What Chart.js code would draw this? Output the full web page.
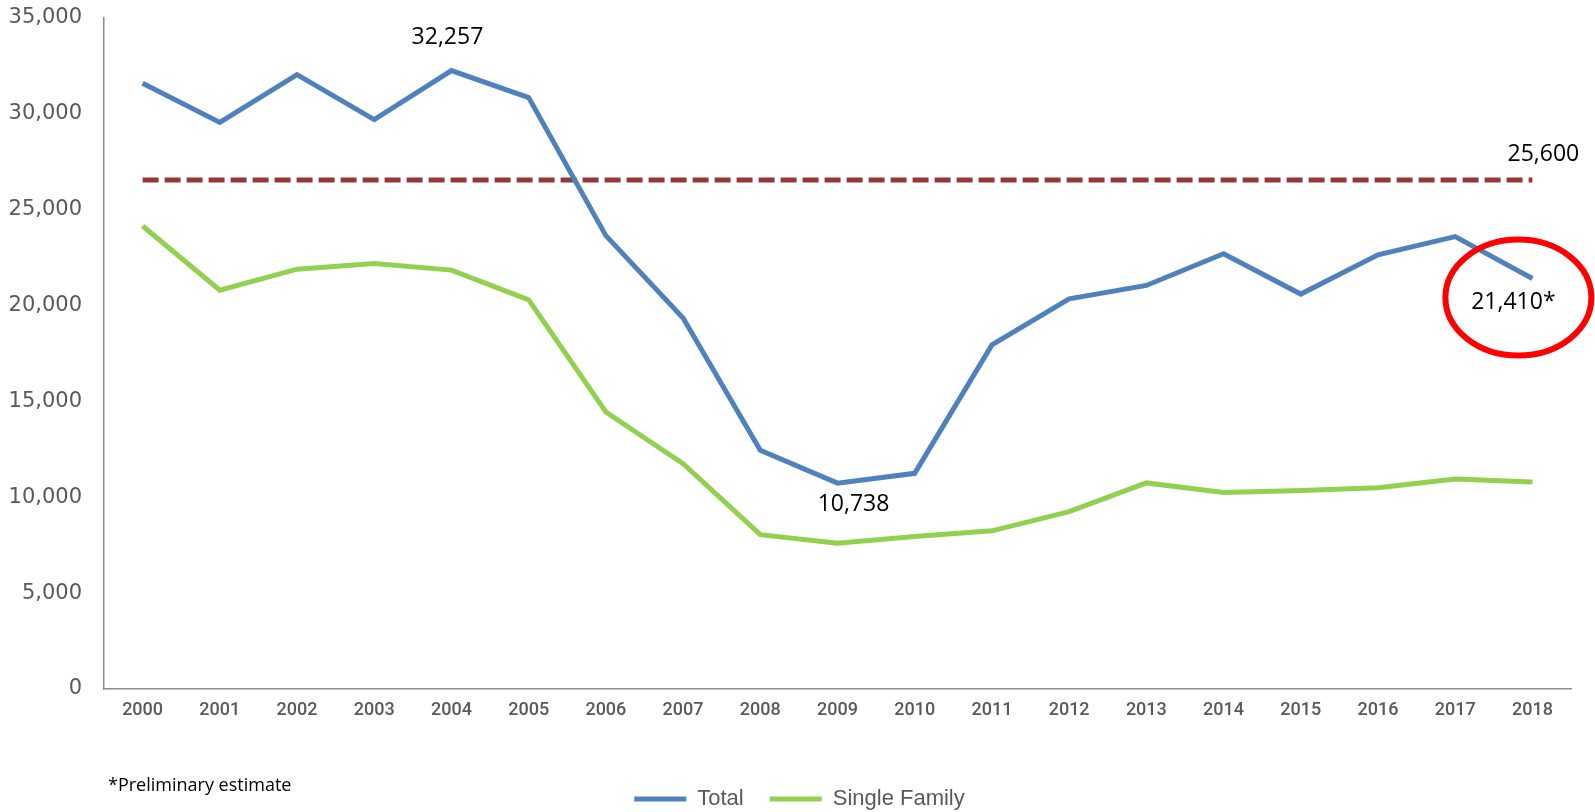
<!DOCTYPE html>
<html>
<head>
<meta charset="utf-8">
<script src="https://cdn.jsdelivr.net/npm/chart.js@4"></script>
<style>
  html, body { margin: 0; padding: 0; background: #fff; }
  #wrap { width: 1595px; height: 812px; position: relative; }
</style>
</head>
<body>
<div id="wrap"><canvas id="permitChart"></canvas></div>
<script>
// data
const years = ['2000','2001','2002','2003','2004','2005','2006','2007','2008','2009',
               '2010','2011','2012','2013','2014','2015','2016','2017','2018'];
const totalPermits = [31600, 29550, 32050, 29700, 32257, 30850, 23650, 19350, 12450, 10738,
                      11250, 17950, 20350, 21050, 22700, 20600, 22650, 23600, 21410];
const singleFamily = [24150, 20800, 21900, 22200, 21850, 20300, 14450, 11750, 8050, 7600,
                      7950, 8250, 9250, 10750, 10250, 10350, 10500, 10950, 10800];
const averageLine = [26550, 26550, 26550, 26550, 26550, 26550, 26550, 26550, 26550, 26550,
                     26550, 26550, 26550, 26550, 26550, 26550, 26550, 26550, 26550];
const yTicks = [0, 5000, 10000, 15000, 20000, 25000, 30000, 35000];

// text callouts: dataset index, point index, text, offset from the point
const callouts = [
  { ds: 0, i: 4,  text: '32,257',  dx: -4,  dy: -33 },
  { ds: 0, i: 9,  text: '10,738',  dx: 16,  dy: 21 },
  { ds: 2, i: 18, text: '25,600',  dx: 11,  dy: -26 },
  { ds: 0, i: 18, text: '21,410*', dx: -19, dy: 24 }
];

const calloutPlugin = {
  id: 'callouts',
  afterLayout(chart) {
    // nudge the legend right so it sits where the original one does
    if (chart.legend) {
      chart.legend.left += 14;
      chart.legend.right += 14;
    }
  },
  afterDatasetsDraw(chart) {
    const ctx = chart.ctx;
    ctx.save();
    ctx.font = '23px "Open Sans"';
    ctx.fillStyle = '#000';
    ctx.textAlign = 'center';
    ctx.textBaseline = 'middle';
    callouts.forEach(c => {
      const pt = chart.getDatasetMeta(c.ds).data[c.i];
      ctx.fillText(c.text, pt.x + c.dx, pt.y + c.dy);
    });

    // red ring round the last estimate
    const last = chart.getDatasetMeta(0).data[years.length - 1];
    ctx.beginPath();
    ctx.ellipse(last.x - 14, last.y + 19, 73, 58, 0, 0, Math.PI * 2);
    ctx.lineWidth = 6;
    ctx.strokeStyle = '#ff0000';
    ctx.stroke();

    // footnote
    ctx.font = '18px "Open Sans"';
    ctx.textAlign = 'left';
    ctx.fillStyle = '#000';
    ctx.fillText('*Preliminary estimate', 108, 786);
    ctx.restore();
  }
};

function initChart() {
  const ctx = document.getElementById('permitChart').getContext('2d');
  new Chart(ctx, {
    type: 'line',
    data: {
      labels: years,
      datasets: [
        {
          label: 'Total',
          data: totalPermits,
          borderColor: '#4f81bd',
          backgroundColor: '#4f81bd',
          borderWidth: 5,
          pointRadius: 0,
          tension: 0
        },
        {
          label: 'Single Family',
          data: singleFamily,
          borderColor: '#92d050',
          backgroundColor: '#92d050',
          borderWidth: 5,
          pointRadius: 0,
          tension: 0
        },
        {
          label: 'Average',
          data: averageLine,
          borderColor: '#953735',
          backgroundColor: '#953735',
          borderWidth: 5,
          borderDash: [16, 6],
          pointRadius: 0,
          tension: 0
        }
      ]
    },
    options: {
      responsive: true,
      maintainAspectRatio: false,
      animation: false,
      layout: { padding: { top: 18, right: 24, left: 0, bottom: -8 } },
      plugins: {
        tooltip: { enabled: false },
        legend: {
          position: 'bottom',
          labels: {
            boxWidth: 52,
            boxHeight: 5,
            padding: 26,
            color: '#595959',
            font: { family: '"Liberation Sans Narrow", "Liberation Sans"', size: 22 },
            generateLabels(chart) {
              const items = Chart.defaults.plugins.legend.labels.generateLabels(chart);
              return items.filter(it => it.datasetIndex < 2)
                .map(it => ({ ...it, lineWidth: 0, fillStyle: it.strokeStyle, lineDash: [] }));
            }
          }
        }
      },
      scales: {
        x: {
          offset: true,
          grid: { display: false, drawTicks: false },
          border: { color: '#8c8c8c', width: 1.5 },
          ticks: {
            color: '#595959',
            padding: 11,
            maxRotation: 0,
            font: { family: 'Roboto', size: 18, weight: 500 }
          },
          afterFit(s) { s.height = 73; s.paddingLeft = 0; s.paddingRight = 0; }
        },
        y: {
          min: 0,
          max: 35000,
          afterBuildTicks(s) { s.ticks = yTicks.map(v => ({ value: v })); },
          grid: { display: false, drawTicks: false },
          border: { color: '#8c8c8c', width: 1.5 },
          ticks: {
            color: '#595959',
            padding: 22,
            font: { family: '"DejaVu Sans"', size: 21 },
            callback: v => v.toLocaleString('en-US')
          },
          afterFit(s) { s.width = 104; s.paddingTop = 0; s.paddingBottom = 0; }
        }
      }
    },
    plugins: [calloutPlugin]
  });
}

document.addEventListener('DOMContentLoaded', initChart);
</script>
</body>
</html>
